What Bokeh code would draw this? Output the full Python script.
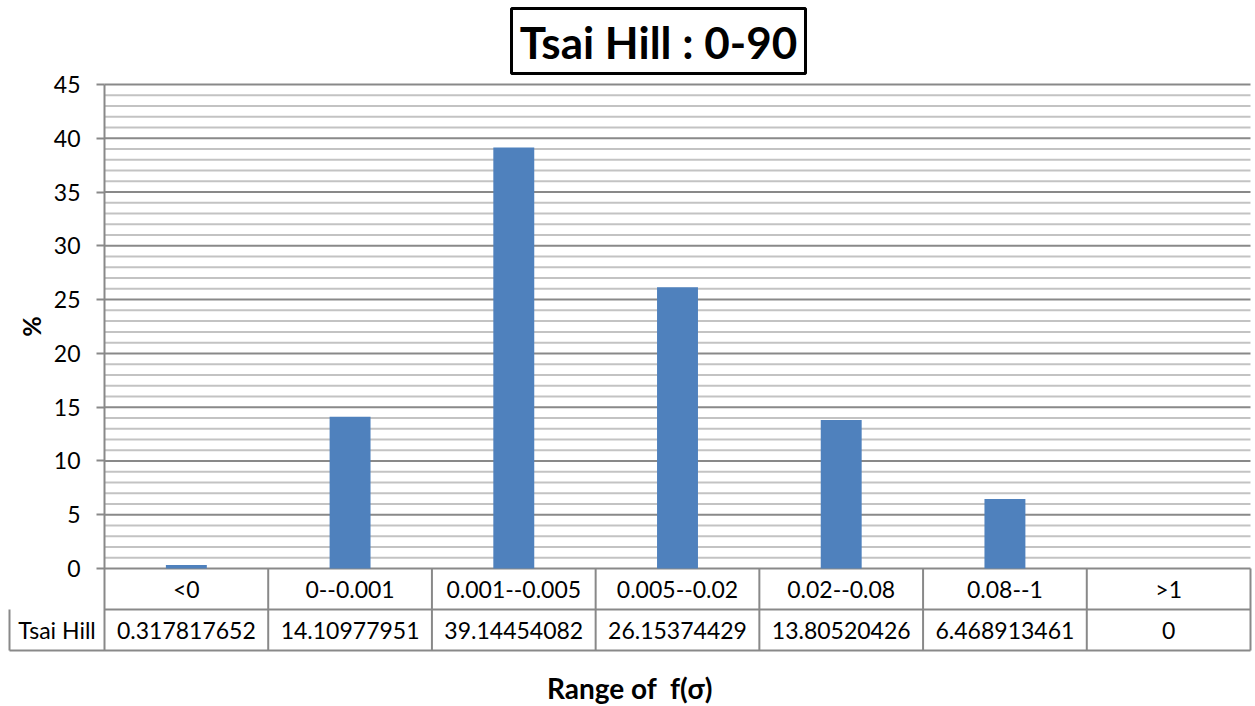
import math
from bokeh.plotting import figure
from bokeh.models import Range1d, FixedTicker, LinearAxis, ColumnDataSource
from bokeh.core.properties import value
from bokeh.embed import file_html
from bokeh.resources import INLINE

# ---- data -------------------------------------------------------------
categories = ["<0", "0--0.001", "0.001--0.005", "0.005--0.02",
              "0.02--0.08", "0.08--1", ">1"]
series_name = "Tsai Hill"
percent = [0.317817652, 14.10977951, 39.14454082, 26.15374429,
           13.80520426, 6.468913461, 0]
y_ticks = [0, 5, 10, 15, 20, 25, 30, 35, 40, 45]
y_minor = [v for v in range(1, 45) if v % 5 != 0]
title_text = "Tsai Hill : 0-90"
x_title = "Range of \u00a0f(\u03c3)"
y_title = "%"

# ---- geometry / style ---------------------------------------------------
FONT = "Lato"
BAR_COLOR = "#4F81BD"
LINE_GRAY = "#898989"
MINOR_GRAY = "#C3C3C3"
W, H = 1255, 706
PLOT_LEFT, PLOT_BOTTOM = 104, 568   # canvas position of the (0, 0) corner
CAT_PX = 1146 / 7                   # pixels per category slot
UNIT_PX = 484 / 45                  # pixels per percent


def X(px):
    """canvas x pixel -> data x"""
    return (px - PLOT_LEFT) / CAT_PX


def Y(py):
    """canvas y pixel (from top) -> data y"""
    return (PLOT_BOTTOM - py) / UNIT_PX


ROW_H = 41 / UNIT_PX       # one table row, in y units
n = len(categories)
centers = [i + 0.5 for i in range(n)]
y_max = y_ticks[-1]

p = figure(width=W, height=H, output_backend="svg", toolbar_location=None,
           x_axis_location=None, y_axis_location=None, title=None,
           x_range=Range1d(X(0), X(W)), y_range=Range1d(Y(H), Y(0)),
           min_border=0)
p.outline_line_color = None
p.background_fill_color = "white"
p.border_fill_color = "white"
p.grid.visible = False

# gridlines: minor then major
p.segment(x0=[0] * len(y_minor), y0=y_minor, x1=[n] * len(y_minor), y1=y_minor,
          line_color=MINOR_GRAY, line_width=2)
p.segment(x0=[0] * len(y_ticks), y0=y_ticks, x1=[n] * len(y_ticks), y1=y_ticks,
          line_color=LINE_GRAY, line_width=2)

# y axis pinned at x = 0
yax = LinearAxis(fixed_location=0,
                 ticker=FixedTicker(ticks=y_ticks, minor_ticks=[]),
                 bounds=(-2 * ROW_H, y_max))
yax.axis_line_color = LINE_GRAY
yax.axis_line_width = 2
yax.major_tick_line_color = LINE_GRAY
yax.major_tick_line_width = 2
yax.major_tick_in = 0
yax.major_tick_out = 8
yax.minor_tick_line_color = None
yax.major_label_standoff = 16
yax.major_label_text_font = FONT
yax.major_label_text_font_size = "23px"
yax.major_label_text_color = "black"
p.add_layout(yax, "left")

# bars
src = ColumnDataSource(dict(x=centers, top=percent, cat=categories,
                            val=[f"{v:.10g}" for v in percent]))
p.vbar(x="x", top="top", width=0.25, source=src,
       fill_color=BAR_COLOR, line_color=None)

# data table under the plot
left_cell = X(9)
p.segment(x0=[0, left_cell, left_cell], y0=[-ROW_H, -2 * ROW_H, -ROW_H],
          x1=[n, n, left_cell], y1=[-ROW_H, -2 * ROW_H, -2 * ROW_H],
          line_color=LINE_GRAY, line_width=2)
p.segment(x0=list(range(1, n + 1)), y0=[0] * n,
          x1=list(range(1, n + 1)), y1=[-2 * ROW_H] * n,
          line_color=LINE_GRAY, line_width=2)
p.text(x="x", y=-0.5 * ROW_H, text="cat", source=src,
       text_align="center", text_baseline="middle",
       text_font=value(FONT), text_font_size="23px", text_color="black")
p.text(x="x", y=-1.5 * ROW_H, text="val", source=src,
       text_align="center", text_baseline="middle",
       text_font=value(FONT), text_font_size="23px", text_color="black")
p.text(x=[left_cell / 2], y=[-1.5 * ROW_H], text=[series_name],
       text_align="center", text_baseline="middle",
       text_font=value(FONT), text_font_size="23px", text_color="black")

# boxed chart title
p.quad(left=[X(511)], right=[X(805)], bottom=[Y(73)], top=[Y(8)],
       fill_color="white", line_color="black", line_width=3)
p.text(x=[X(658)], y=[Y(41)], text=[title_text],
       text_align="center", text_baseline="middle",
       text_font=value(FONT), text_font_size="44px", text_font_style="bold",
       text_color="black")

# axis titles
p.text(x=[X(629.5)], y=[Y(687)], text=[x_title],
       text_align="center", text_baseline="middle",
       text_font=value(FONT), text_font_size="28px", text_font_style="bold",
       text_color="black")
p.text(x=[X(30)], y=[Y(326)], text=[y_title], angle=math.pi / 2,
       text_align="center", text_baseline="middle",
       text_font=value(FONT), text_font_size="25px", text_font_style="bold",
       text_color="black")

open("out.html", "w").write(file_html(p, INLINE))
